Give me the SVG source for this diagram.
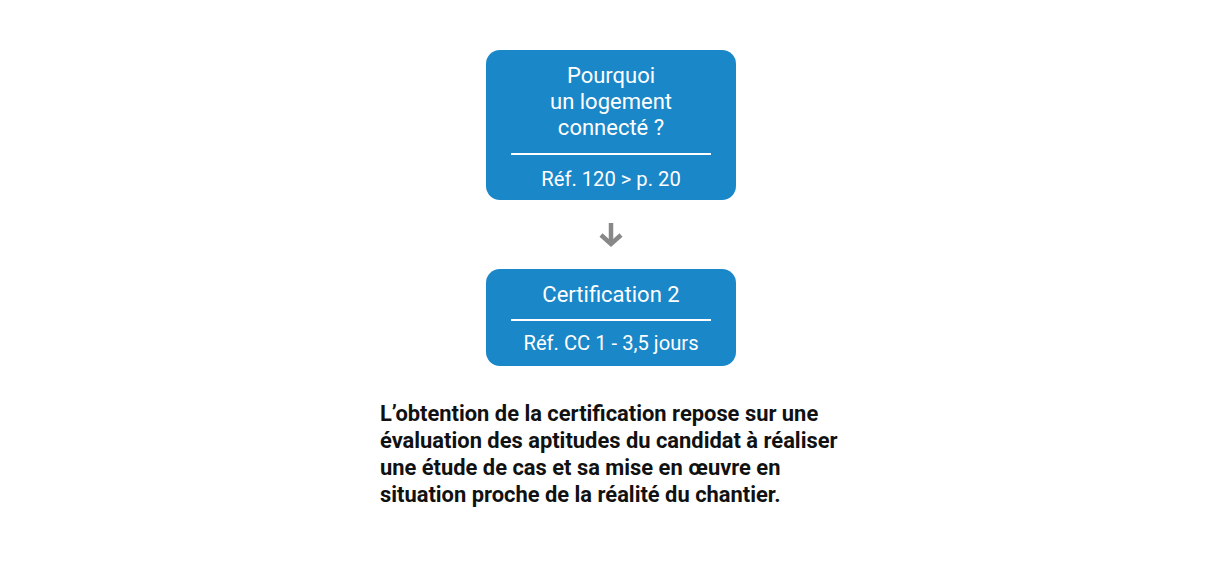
<svg xmlns="http://www.w3.org/2000/svg" width="1222" height="569" viewBox="0 0 1222 569">
<style>
.box{fill:#1a87c8}
.t{font-family:Roboto,"Liberation Sans",sans-serif;font-size:22px;fill:#fff;text-anchor:middle}
.s{font-size:20.2px}
.div{stroke:#fff;stroke-width:2}
.body{font-family:Roboto,"Liberation Sans",sans-serif;font-size:21.9px;font-weight:bold;fill:#111}
.arr{stroke:#888;stroke-width:4.5;fill:none;stroke-linecap:butt}
</style>
<rect width="1222" height="569" fill="#fff"/>
<g id="node1">
<rect class="box" x="486" y="50" width="250" height="150" rx="14"/>
<text class="t" x="611" y="83">Pourquoi</text>
<text class="t" x="611" y="109">un logement</text>
<text class="t" x="611" y="135">connecté ?</text>
<line class="div" x1="511" y1="154" x2="711" y2="154"/>
<text class="t s" x="611" y="186">Réf. 120 &gt; p. 20</text>
</g>
<g id="connectors">
<line class="arr" x1="611" y1="223" x2="611" y2="243"/>
<polyline class="arr" points="601,235 611,244 621,235"/>
</g>
<g id="node2">
<rect class="box" x="486" y="269" width="250" height="97" rx="14"/>
<text class="t" x="611" y="302">Certification 2</text>
<line class="div" x1="511" y1="320" x2="711" y2="320"/>
<text class="t s" x="611" y="350">Réf. CC 1 - 3,5 jours</text>
</g>
<g id="text">
<text class="body" x="380" y="421">L’obtention de la certification repose sur une</text>
<text class="body" x="380" y="448">évaluation des aptitudes du candidat à réaliser</text>
<text class="body" x="380" y="475">une étude de cas et sa mise en œuvre en</text>
<text class="body" x="380" y="502">situation proche de la réalité du chantier.</text>
</g>
</svg>
